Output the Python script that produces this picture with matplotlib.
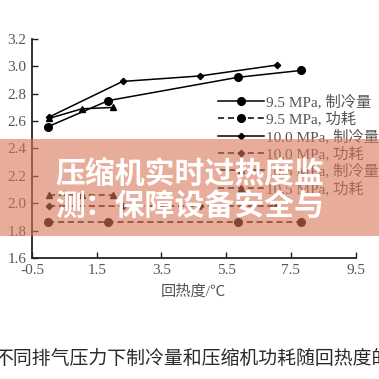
import matplotlib
matplotlib.use("Agg")
import matplotlib.pyplot as plt
from matplotlib.patches import Rectangle

plt.rcParams['font.family'] = ['Liberation Serif', 'Noto Sans CJK SC', 'DejaVu Sans']

# Data
x_95 = [0.0, 1.86, 5.86, 7.8]
cap_95 = [2.56, 2.75, 2.92, 2.97]
pow_95 = [1.86, 1.86, 1.86, 1.86]

x_100 = [0.03, 2.3, 4.69, 7.08]
cap_100 = [2.63, 2.89, 2.93, 3.01]
pow_100 = [1.98, 1.98, 1.98, 1.98]

x_105 = [0.03, 1.04, 2.01]
cap_105 = [2.62, 2.69, 2.70]
pow_105 = [2.06, 2.06, 2.06]

labels = ["9.5 MPa, 制冷量", "9.5 MPa, 功耗", "10.0 MPa, 制冷量",
          "10.0 MPa, 功耗", "10.5 MPa, 制冷量", "10.5 MPa, 功耗"]
xticks = [-0.5, 1.5, 3.5, 5.5, 7.5, 9.5]
yticks = [1.6, 1.8, 2.0, 2.2, 2.4, 2.6, 2.8, 3.0, 3.2]
xlabel = "回热度/℃"
banner = "压缩机实时过热度监\n测：保障设备安全与"
caption = "不同排气压力下制冷量和压缩机功耗随回热度的"

fig = plt.figure(figsize=(3.79, 3.79), dpi=100)
ax = fig.add_axes([0.0844, 0.3193, 0.8541, 0.5778])

lw = 1.1
dash = (4, 2.5)
ax.plot(x_95, cap_95, '-', color='black', lw=lw, marker='o', ms=5.5, label=labels[0])
ax.plot(x_95, pow_95, '--', color='black', lw=lw, marker='o', ms=5.5, label=labels[1], dashes=dash)
ax.plot(x_100, cap_100, '-', color='black', lw=lw, marker='D', ms=3.2, label=labels[2])
ax.plot(x_100, pow_100, '--', color='black', lw=lw, marker='D', ms=3.2, label=labels[3], dashes=dash)
ax.plot(x_105, cap_105, '-', color='black', lw=lw, marker='^', ms=5, label=labels[4])
ax.plot(x_105, pow_105, '--', color='black', lw=lw, marker='^', ms=5, label=labels[5], dashes=dash)

ax.set_xlim(-0.5, 9.5)
ax.set_ylim(1.6, 3.2)
ax.set_xticks(xticks)
ax.set_xticklabels([("-" + f"{abs(v):g}") if v < 0 else f"{v:g}" for v in xticks])
ax.set_yticks(yticks)
ax.set_yticklabels([f"{v:.1f}" for v in yticks])
for s in ['top', 'right']:
    ax.spines[s].set_visible(False)
for s in ['left', 'bottom']:
    ax.spines[s].set_linewidth(1.3)
    ax.spines[s].set_color('#222222')
ax.tick_params(direction='in', length=4, width=1, labelsize=11, colors='#222222',
               labelcolor='#555555', pad=4)
ax.set_xlabel(xlabel, fontsize=11, color='#555555', labelpad=6)

ax.legend(loc='upper right', bbox_to_anchor=(1.09, 0.775), frameon=False, fontsize=11,
          handlelength=3.0, handletextpad=0.15, labelspacing=0.16, borderaxespad=0,
          labelcolor='#555555')

# Overlay banner
fig.patches.append(Rectangle((0, 1 - 236 / 379), 1, (236 - 139) / 379, transform=fig.transFigure,
                             facecolor='#D97657', alpha=0.6, edgecolor='none', zorder=10))
fig.text(55 / 379, 1 - 190 / 379, banner, fontsize=21.5, fontweight='bold', color='white',
         family=['Noto Sans CJK SC'], va='center', ha='left', linespacing=1.05, zorder=11)

fig.text(-6 / 379, 1 - 358 / 379, caption, fontsize=13.6, color='#2a2a2a',
         family=['Noto Sans CJK SC'], va='center', ha='left')

fig.savefig("out.png", dpi=100)
